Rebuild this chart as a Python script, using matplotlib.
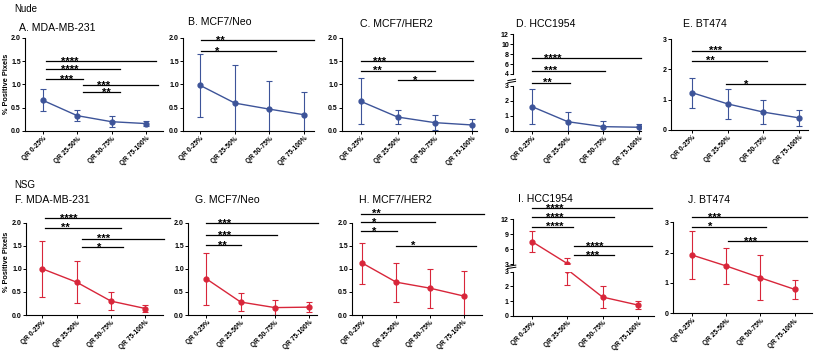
import numpy as np
import matplotlib.pyplot as plt

plt.rcParams['font.family'] = ['Liberation Sans', 'DejaVu Sans']

W, H = 821, 355

groups = ["QR 0-25%", "QR 25-50%", "QR 50-75%", "QR 75-100%"]

# panel titles
nude_titles = ["A. MDA-MB-231", "B. MCF7/Neo", "C. MCF7/HER2", "D. HCC1954", "E. BT474"]
nsg_titles = ["F. MDA-MB-231", "G. MCF7/Neo", "H. MCF7/HER2", "I. HCC1954", "J. BT474"]

# mean % positive pixels per quartile
nude_mean = [
    [0.66, 0.33, 0.20, 0.16],
    [0.98, 0.60, 0.47, 0.35],
    [0.64, 0.30, 0.18, 0.13],
    [1.62, 0.62, 0.29, 0.25],
    [1.23, 0.86, 0.59, 0.40],
]
nude_sd = [
    [0.24, 0.12, 0.12, 0.06],
    [0.67, 0.83, 0.61, 0.48],
    [0.49, 0.16, 0.16, 0.12],
    [1.17, 0.63, 0.40, 0.24],
    [0.50, 0.50, 0.40, 0.26],
]
nsg_mean = [
    [1.00, 0.71, 0.30, 0.14],
    [0.78, 0.28, 0.16, 0.17],
    [1.12, 0.71, 0.58, 0.41],
    [7.50, 3.15, 1.27, 0.73],
    [1.92, 1.56, 1.17, 0.79],
]
nsg_sd = [
    [0.60, 0.46, 0.20, 0.085],
    [0.56, 0.19, 0.17, 0.11],
    [0.44, 0.42, 0.42, 0.55],
    [2.05, 1.07, 0.73, 0.30],
    [0.80, 0.60, 0.74, 0.31],
]

# significance bars: (x start, x end, y, label x, label)
# for the broken panels (D, I) y is on the upper segment's scale
nude_sig = [
    [(0.08, 3.29, 1.50, 0.79, "****"), (0.08, 2.24, 1.33, 0.79, "****"),
     (0.08, 1.18, 1.12, 0.69, "***"), (1.16, 3.36, 0.99, 1.77, "***"),
     (1.16, 2.24, 0.83, 1.86, "**")],
    [(0.03, 3.28, 1.96, 0.59, "**"), (0.03, 2.20, 1.72, 0.48, "*")],
    [(0.0, 3.03, 1.51, 0.52, "***"), (0.0, 2.00, 1.30, 0.45, "**"),
     (1.02, 3.03, 1.10, 1.47, "*")],
    [(0.0, 3.05, 7.17, 0.59, "****"), (0.0, 2.05, 4.67, 0.53, "***"),
     (0.0, 1.06, 2.25, 0.43, "**")],
    [(0.0, 3.17, 2.62, 0.65, "***"), (0.0, 2.09, 2.29, 0.51, "**"),
     (0.96, 3.17, 1.52, 1.53, "*")],
]
nsg_sig = [
    [(0.08, 3.70, 2.10, 0.76, "****"), (0.08, 2.30, 1.89, 0.66, "**"),
     (1.16, 3.54, 1.65, 1.79, "***"), (1.16, 2.35, 1.47, 1.67, "*")],
    [(0.0, 3.26, 1.98, 0.54, "***"), (0.0, 2.05, 1.73, 0.54, "***"),
     (0.0, 1.02, 1.51, 0.46, "**")],
    [(-0.05, 3.60, 2.19, 0.41, "**"), (-0.05, 2.15, 2.01, 0.36, "*"),
     (-0.05, 1.02, 1.82, 0.36, "*"), (1.00, 3.37, 1.50, 1.51, "*")],
    [(0.0, 3.39, 14.1, 0.64, "****"), (0.0, 2.33, 12.3, 0.64, "****"),
     (0.0, 1.16, 10.5, 0.64, "****"), (1.18, 3.39, 6.6, 1.78, "****"),
     (1.18, 2.33, 4.85, 1.73, "***")],
    [(0.0, 3.36, 3.18, 0.67, "***"), (0.0, 2.17, 2.86, 0.52, "*"),
     (1.06, 3.36, 2.38, 1.70, "***")],
]

BLUE = "#3d5499"
RED = "#d8263a"

# layout in pixels: y-axis x, x-axis end, xlim
top_x = [(25, 163, (-0.52, 3.50)), (183, 314, (-0.50, 3.29)), (342, 477, (-0.50, 3.14)),
         (513, 641, (-0.54, 3.06)), (671, 808, (-0.59, 3.25))]
bot_x = [(26, 163, (-0.47, 3.51)), (188, 317, (-0.54, 3.23)), (352, 482, (-0.31, 3.54)),
         (513, 654, (-0.54, 3.46)), (673, 812, (-0.56, 3.51))]

fig = plt.figure(figsize=(W / 100, H / 100), dpi=100)


def add_ax(x0, x1, ytop, ybot):
    return fig.add_axes([x0 / W, 1 - ybot / H, (x1 - x0) / W, (ybot - ytop) / H])


def style(ax, xlim, ylim, yticks, fmt, xaxis=True):
    ax.set_xlim(xlim)
    ax.set_ylim(ylim)
    ax.patch.set_alpha(0)
    ax.spines['top'].set_visible(False)
    ax.spines['right'].set_visible(False)
    ax.spines['left'].set_linewidth(0.8)
    ax.spines['bottom'].set_linewidth(0.8)
    ax.set_yticks(yticks)
    ax.set_yticklabels([fmt.format(t) for t in yticks], fontsize=5, fontweight='bold')
    ax.tick_params(axis='both', length=2, width=0.7, pad=1)
    ax.set_xticks(range(4))
    if xaxis:
        ax.set_xticklabels(groups, rotation=45, ha='right', rotation_mode='anchor',
                           fontsize=4.8, fontweight='bold')
    else:
        ax.spines['bottom'].set_visible(False)
        ax.tick_params(axis='x', length=0, labelbottom=False)


def draw_series(ax, mean, sd, color):
    ax.errorbar(range(4), mean, yerr=sd, color=color, marker='o', ms=3.5, lw=1,
                capsize=2, elinewidth=0.8, capthick=0.8)


def draw_sig(ax, bars):
    for x0, x1, y, lx, lab in bars:
        ax.plot([x0, x1], [y, y], color='black', lw=0.9, clip_on=False)
        ax.annotate(lab, (lx, y), xytext=(0, -2.6), textcoords='offset points',
                    ha='center', va='baseline', fontsize=8, fontweight='bold',
                    annotation_clip=False)


def break_mark(ax):
    for dy in (0.6, 1.0):
        ax.plot([-0.04, 0.02], [1 + dy * 0.12, 1 + dy * 0.12 + 0.03], color='black',
                lw=0.7, transform=ax.transAxes, clip_on=False)


def row(xs, means, sds, sigs, titles, color, normal_y, broken_y, single3_y, title_y):
    for i in range(5):
        x0, x1, xlim = xs[i]
        if i == 3:
            (ut, ub), (lt, lb), uylim, uticks = broken_y
            up = add_ax(x0, x1, ut, ub)
            lo = add_ax(x0, x1, lt, lb)
            style(up, xlim, uylim, uticks, "{:g}", xaxis=False)
            style(lo, xlim, (0, 3), [0, 1, 2, 3], "{:g}")
            draw_series(up, means[i], sds[i], color)
            draw_series(lo, means[i], sds[i], color)
            draw_sig(up, sigs[i])
            break_mark(lo)
        elif i == 4:
            ax = add_ax(x0, x1, *single3_y)
            style(ax, xlim, (0, 3), [0, 1, 2, 3], "{:g}")
            draw_series(ax, means[i], sds[i], color)
            draw_sig(ax, sigs[i])
        else:
            ax = add_ax(x0, x1, *normal_y)
            style(ax, xlim, (0, 2), [0, 0.5, 1.0, 1.5, 2.0], "{:.1f}")
            draw_series(ax, means[i], sds[i], color)
            draw_sig(ax, sigs[i])
        fig.text(title_y[i][0] / W, 1 - title_y[i][1] / H, titles[i], fontsize=7.6,
                 va='baseline', ha='left')


row(top_x, nude_mean, nude_sd, nude_sig, nude_titles, BLUE,
    (38, 131), ((34.3, 74), (86, 131), (4, 12), [4, 6, 8, 10, 12]), (39, 130),
    [(19, 30.7), (188, 25), (360, 26.7), (516, 26.7), (683, 27.3)])
row(bot_x, nsg_mean, nsg_sd, nsg_sig, nsg_titles, RED,
    (222.5, 315), ((219, 264.3), (271.7, 315.7), (3, 12), [3, 6, 9, 12]), (222.3, 313.3),
    [(15, 203.3), (195, 202.7), (359, 203.3), (518, 201.7), (688, 203.3)])

fig.text(14 / W, 1 - 12.3 / H, "Nude", fontsize=7, va='baseline')
fig.text(14 / W, 1 - 188.3 / H, "NSG", fontsize=7, va='baseline')
fig.text(6.7 / W, 1 - 84 / H, "% Positive Pixels", fontsize=5.3, fontweight='bold',
         rotation=90, ha='center', va='center')
fig.text(6.7 / W, 1 - 262 / H, "% Positive Pixels", fontsize=5.3, fontweight='bold',
         rotation=90, ha='center', va='center')

fig.savefig("out.png", dpi=100)
